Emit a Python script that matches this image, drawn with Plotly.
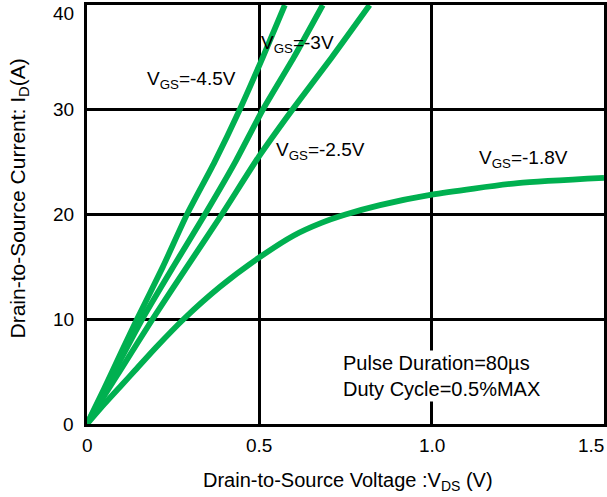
import plotly.graph_objects as go

# Data
vds_45 = [0, 0.05, 0.1, 0.145, 0.22, 0.29, 0.37, 0.443, 0.51, 0.574]
id_45 = [0, 3.4, 6.9, 10, 15, 20, 25, 30, 35, 40]

vds_30 = [0, 0.05, 0.1, 0.16, 0.25, 0.342, 0.43, 0.51, 0.6, 0.684]
id_30 = [0, 3.1, 6.3, 10, 15, 20, 25, 30, 35, 40]

vds_25 = [0, 0.05, 0.1, 0.19, 0.29, 0.391, 0.5, 0.6, 0.71, 0.82]
id_25 = [0, 2.7, 5.3, 10, 15, 20, 25.6, 30.2, 35, 40]

vds_18 = [0, 0.05, 0.1, 0.139, 0.2, 0.28, 0.386, 0.5, 0.6, 0.68, 0.75, 0.85, 1.0, 1.25, 1.5]
id_18 = [0, 1.9, 3.7, 5.1, 7.3, 10, 13.1, 15.9, 18.0, 19.2, 20.0, 20.9, 21.9, 23.0, 23.5]

x_ticks = [0, 0.5, 1.0, 1.5]
x_tick_text = ["0", "0.5", "1.0", "1.5"]
y_ticks = [0, 10, 20, 30, 40]
y_tick_text = ["0", "10", "20", "30", "40"]

series = [
    (vds_45, id_45, "V<sub>GS</sub>=-4.5V", 0.304, 32.8),
    (vds_30, id_30, "V<sub>GS</sub>=-3V", 0.61, 36.3),
    (vds_25, id_25, "V<sub>GS</sub>=-2.5V", 0.678, 26.1),
    (vds_18, id_18, "V<sub>GS</sub>=-1.8V", 1.267, 25.3),
]

GREEN = "#00B050"
FONT = "Liberation Sans, Arial, sans-serif"
FS = 19

fig = go.Figure()
annotations = []
for xs, ys, label, ax, ay in series:
    fig.add_trace(go.Scatter(x=xs, y=ys, mode="lines",
                             line=dict(color=GREEN, width=5.8, shape="spline", smoothing=0.6),
                             showlegend=False, hoverinfo="skip", cliponaxis=True))
    annotations.append(dict(x=ax, y=ay, xref="x", yref="y", text=label, showarrow=False,
                            font=dict(size=FS, color="black", family=FONT)))

annotations.append(dict(x=0.742, y=4.6, xref="x", yref="y", xanchor="left", align="left",
                        xshift=-2,
                        text="Pulse Duration=80µs<br>Duty Cycle=0.5%MAX", showarrow=False,
                        bgcolor="white", borderpad=1,
                        font=dict(size=20, color="black", family=FONT)))

# x tick labels
for v, t in zip(x_ticks, x_tick_text):
    last = (v == x_ticks[-1])
    annotations.append(dict(x=v, y=0, xref="x", yref="paper", yanchor="top", yshift=-9,
                            xanchor="right" if last else "center", xshift=2 if last else 0,
                            text=t, showarrow=False,
                            font=dict(size=FS, color="black", family=FONT)))
# y tick labels
for v, t in zip(y_ticks, y_tick_text):
    annotations.append(dict(x=0, y=v, xref="paper", yref="y", xanchor="right", yanchor="middle",
                            xshift=-11, yshift=-8 if v == y_ticks[-1] else 0, text=t, showarrow=False,
                            font=dict(size=FS, color="black", family=FONT)))

# axis titles
annotations.append(dict(x=0.5, y=0, xref="paper", yref="paper", yanchor="middle", yshift=-57,
                        xanchor="center", xshift=2,
                        text="Drain-to-Source Voltage :V<sub>DS</sub> (V)", showarrow=False,
                        font=dict(size=20, color="black", family=FONT)))
annotations.append(dict(x=0, y=0.5, xref="paper", yref="paper", xanchor="center", yanchor="middle",
                        xshift=-69, yshift=16, textangle=-90,
                        text="Drain-to-Source Current: I<sub>D</sub>(A)", showarrow=False,
                        font=dict(size=21, color="black", family=FONT)))

fig.update_layout(
    width=607, height=497,
    margin=dict(l=87, r=3, t=5, b=73, autoexpand=False),
    paper_bgcolor="white", plot_bgcolor="white",
    font=dict(family=FONT, size=FS, color="black"),
    annotations=annotations,
    xaxis=dict(range=[0, 1.5], tickvals=x_ticks, showticklabels=False,
               showgrid=True, gridcolor="black", gridwidth=2.5, automargin=False,
               showline=True, linecolor="black", linewidth=3, mirror=True,
               zeroline=False, ticks=""),
    yaxis=dict(range=[0, 40], tickvals=y_ticks, showticklabels=False,
               showgrid=True, gridcolor="black", gridwidth=2.5, automargin=False,
               showline=True, linecolor="black", linewidth=3, mirror=True,
               zeroline=False, ticks=""),
)

fig.write_html("out.html", config={"displayModeBar": False},
               post_script="document.body.style.margin='0';document.body.style.overflow='hidden';")
